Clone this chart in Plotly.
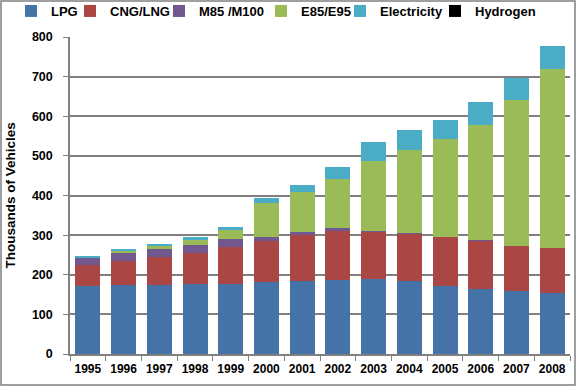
import plotly.graph_objects as go

years = ["1995", "1996", "1997", "1998", "1999", "2000", "2001",
         "2002", "2003", "2004", "2005", "2006", "2007", "2008"]
lpg = [172, 173, 173, 177, 177, 182, 185, 188, 190, 183, 172, 164, 159, 153]
cng = [52, 61, 71, 78, 93, 103, 116, 124, 119, 121, 124, 122, 114, 115]
m85 = [19, 21, 21, 20, 20, 10, 8, 5, 0.5, 0.5, 0.5, 0.5, 0.5, 0.5]
e85 = [1, 5, 7, 15, 25, 86, 99, 124, 177, 210, 245, 292, 367, 450]
electricity = [1, 2.5, 6, 5, 5, 13, 18, 30, 48, 51, 48, 57, 56, 59]
hydrogen = [0, 0, 0, 0, 0, 0, 0, 0, 0, 0, 0, 0, 0, 0]

series = [
    ("LPG", lpg, "#4572A7"),
    ("CNG/LNG", cng, "#AA4643"),
    ("M85 /M100", m85, "#71588F"),
    ("E85/E95", e85, "#9BBB59"),
    ("Electricity", electricity, "#4BACC6"),
    ("Hydrogen", hydrogen, "#000000"),
]

FONT = "Liberation Sans"
L, R, T, B = 70, 6, 37, 32
W, H = 576, 386
pw, ph = W - L - R, H - T - B

# left pixel where each legend entry's text should begin
legend_text_px = [52, 111, 200, 302, 381, 476]

fig = go.Figure()
legend_layout = {}
for i, (name, vals, col) in enumerate(series):
    key = f"legend{i + 2}"
    fig.add_trace(go.Bar(x=years, y=vals, name=name, marker_color=col,
                         marker_line_width=0, legend=key, showlegend=True))
    legend_layout[key] = dict(
        orientation="h", xref="container", yref="container",
        x=(legend_text_px[i] - 41) / W, xanchor="left",
        y=1 - 11 / H, yanchor="middle", bgcolor="rgba(0,0,0,0)",
        font=dict(family=FONT, size=13, color="black", weight="bold"),
        itemwidth=30)

fig.update_layout(
    width=W, height=H, showlegend=True,
    barmode="stack", bargap=0.3,
    paper_bgcolor="white", plot_bgcolor="white",
    margin=dict(l=L, r=R, t=T, b=B, autoexpand=False),
    font=dict(family=FONT, size=12, color="black"),
    xaxis=dict(type="category", showgrid=False, showline=True,
               linecolor="#808080", linewidth=1.5, tickangle=0,
               ticks="outside", ticklen=5, tickcolor="#808080",
               tickson="boundaries", automargin=False, ticklabelstandoff=3,
               tickfont=dict(family=FONT, size=12, color="black", weight="bold")),
    yaxis=dict(range=[0, 800], dtick=100, showgrid=True, gridcolor="#808080",
               gridwidth=1.5, showline=True, linecolor="#808080", linewidth=1.5,
               ticks="outside", ticklen=5, tickcolor="#808080",
               ticklabelstandoff=8, zeroline=False, automargin=False,
               tickfont=dict(family=FONT, size=12.5, color="black", weight="bold")),
    annotations=[dict(text="Thousands of Vehicles", textangle=-90,
                      xref="paper", yref="paper", x=-(L - 10) / pw, y=0.5,
                      xanchor="center", yanchor="middle", showarrow=False,
                      font=dict(family=FONT, size=13.5, color="black", weight="bold"))],
    shapes=[dict(type="rect", xref="paper", yref="paper",
                 x0=-(L - 1) / pw, x1=1 + (R - 1) / pw,
                 y0=-(B - 1) / ph, y1=1 + (T - 1) / ph,
                 line=dict(color="#808080", width=1.5), layer="below")],
    **legend_layout,
)

fig.write_html("out.html", config={"displayModeBar": False},
               post_script="document.body.style.margin='0';document.body.style.padding='0';")
